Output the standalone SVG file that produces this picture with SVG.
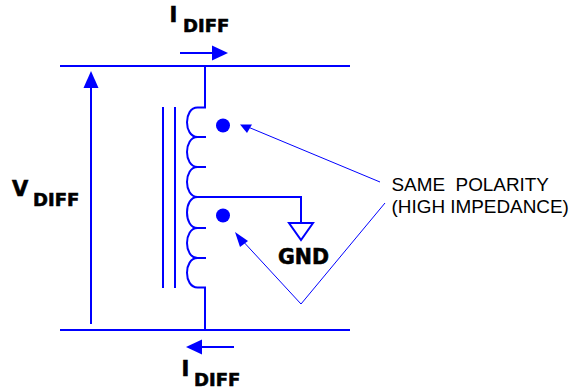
<svg xmlns="http://www.w3.org/2000/svg" width="571" height="388" viewBox="0 0 571 388">
<style>
.w{fill:none;stroke:#0000ff;stroke-width:2}
.t{fill:none;stroke:#0000ff;stroke-width:1}
.h{fill:#0000ff;stroke:none}
.b{font-family:"DejaVu Sans",sans-serif;font-weight:700;fill:#000;stroke:#000;stroke-width:.6}
.s{font-size:18px}
.l{font-size:21px}
.n{font-family:"Liberation Sans",Arial,sans-serif;font-size:18.900px;fill:#000}
</style>
<rect width="571" height="388" fill="#fff"/>
<g id="connectors">
<path class="w" d="M60 66H350M60 330H350"/>
<path class="w" d="M205 66V107.500H197.500C183.500 107.500 183.500 137 197.500 137H206"/>
<path class="w" d="M197.500 137C183.500 137 183.500 167 197.500 167H206"/>
<path class="w" d="M197.500 167C183.500 167 183.500 197 197.500 197H301V223"/>
<path class="w" d="M197.500 197C183.500 197 183.500 228 197.500 228H206"/>
<path class="w" d="M197.500 228C183.500 228 183.500 258 197.500 258H206"/>
<path class="w" d="M197.500 258C183.500 258 183.500 287.500 197.500 287.500H205V330"/>
<path class="w" d="M163 107V288M175 107V288"/>
<path class="w" d="M91 324V86"/>
<polygon class="h" points="91,71 83.500,88 98.500,88"/>
<path class="w" d="M180 53H214"/>
<polygon class="h" points="228,53 212,45.500 212,60.500"/>
<path class="w" d="M234 347H200"/>
<polygon class="h" points="186,347 202,339.500 202,354.500"/>
<path class="t" d="M380 182L248 127"/>
<polygon class="h" points="240,124.500 252,124.500 247,133"/>
<path class="t" d="M385 203L301 304L240 238"/>
<polygon class="h" points="235,232 248,241 240,247"/>
</g>
<g id="dot-upper"><circle class="h" cx="223" cy="125.500" r="7"/></g>
<g id="dot-lower"><circle class="h" cx="223" cy="215.500" r="7"/></g>
<g id="ground"><polygon class="w" points="289,223 313,223 301,240"/>
<text class="b" x="278" y="264" font-size="20.500">GND</text></g>
<g id="label-i-top"><text class="b l" x="169.500" y="22">I</text><text class="b s" x="183" y="32">DIFF</text></g>
<g id="label-i-bottom"><text class="b l" x="181.500" y="376">I</text><text class="b s" x="194" y="385.500">DIFF</text></g>
<g id="label-v"><text class="b l" x="12" y="195.500">V</text><text class="b s" x="33" y="206">DIFF</text></g>
<g id="label-polarity">
<text class="n" x="391.500" y="190.500" xml:space="preserve">SAME  POLARITY</text>
<text class="n" x="391.500" y="212.500">(HIGH IMPEDANCE)</text>
</g>
</svg>
